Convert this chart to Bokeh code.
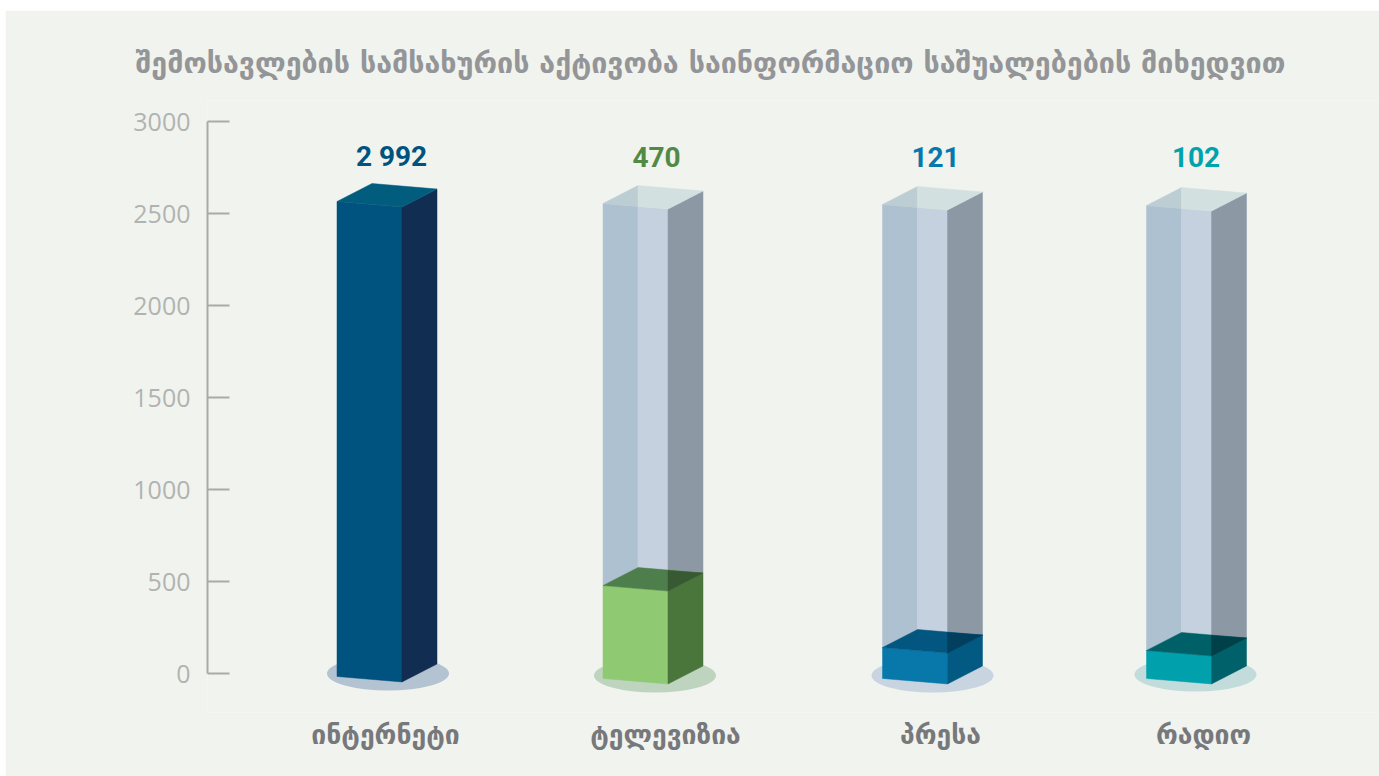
from bokeh.embed import file_html
from bokeh.resources import INLINE
from bokeh.plotting import figure
from bokeh.models import Title, FixedTicker, ColumnDataSource, Range1d
from bokeh.core.properties import value

# ---- data ----
title_text = "შემოსავლების სამსახურის აქტივობა საინფორმაციო საშუალებების მიხედვით"
categories = ["ინტერნეტი", "ტელევიზია", "პრესა", "რადიო"]
value_labels = ["2 992", "470", "121", "102"]
fill_level = [2565, 478, 141, 125]      # height the solid block reaches on the axis
ghost_level = [2565, 2554, 2549, 2543]  # height of the translucent column on the axis
base_level = [-16, -27, -27, -27]       # front-left foot of each block on the axis
y_ticks = [0, 500, 1000, 1500, 2000, 2500, 3000]

# ---- layout ----
PAGE_X, PAGE_Y = 5, 10
W, H = 1379 - PAGE_X, 776 - PAGE_Y
FRAME_L, FRAME_T, FRAME_B = 207, 100, 712
PX_ZERO, PX_THREE_K = 673, 121
unit = (PX_ZERO - PX_THREE_K) / 3000   # pixels per axis unit

box_left = [336.5, 602.5, 882, 1146]
label_x = [385, 665, 940, 1203]
value_x = [391, 656, 935, 1195.5]
shadow_x = [387.5, 654.5, 932, 1195]
shadow_base = [0, -11, -11, -6]
FRONT_W, FRONT_SLOPE = 65, 5.5
DEPTH_X, DEPTH_Y = 35, 18

# ---- styling ----
BG = "#f1f3ee"
front = ["#00527f", "#8fca72", "#0878aa", "#00a0ac"]
side = ["#112e52", "#4a763c", "#025a83", "#00616a"]
top = ["#025c7d", "#4d7e4b", "#02567f", "#006068"]
top_over = ["#025c7d", "#375a33", "#023f5e", "#004049"]
shadow = ["#b3c3d1", "#bfd4bf", "#c8d4e0", "#c2dcdb"]
value_col = ["#00527f", "#518a45", "#0878aa", "#00a3ad"]

p = figure(width=W, height=H, output_backend="svg", toolbar_location=None,
           x_range=Range1d(FRAME_L, PAGE_X + W),
           y_range=Range1d((PX_ZERO - FRAME_B) / unit, (PX_ZERO - FRAME_T) / unit),
           min_border_left=FRAME_L - PAGE_X, min_border_right=0,
           min_border_top=FRAME_T - PAGE_Y, min_border_bottom=H + PAGE_Y - FRAME_B,
           background_fill_color=BG, border_fill_color=BG, outline_line_color=None,
           margin=(PAGE_Y, 0, 0, PAGE_X))
p.xgrid.visible = False
p.ygrid.visible = False

p.title = Title(text=title_text, text_font="DejaVu Sans", text_font_size="28.6px",
                text_font_style="bold", text_color="#939598", align="left",
                offset=-72, standoff=42)

ya = p.yaxis[0]
ya.ticker = FixedTicker(ticks=y_ticks)
ya.bounds = (0, 3000)
ya.axis_line_color = "#a9abaa"
ya.axis_line_width = 2
ya.major_tick_line_color = "#a9abaa"
ya.major_tick_line_width = 2
ya.major_tick_in = 22
ya.major_tick_out = 0
ya.minor_tick_line_color = None
ya.major_label_text_font = "Open Sans"
ya.major_label_text_font_size = "25px"
ya.major_label_text_color = "#b1b3b2"
ya.major_label_standoff = 17

xa = p.xaxis[0]
xa.ticker = FixedTicker(ticks=label_x)
xa.major_label_overrides = dict(zip(label_x, categories))
xa.axis_line_color = None
xa.major_tick_line_color = None
xa.minor_tick_line_color = None
xa.major_label_text_font = "DejaVu Sans"
xa.major_label_text_font_style = "bold"
xa.major_label_text_font_size = "26.5px"
xa.major_label_text_color = "#77787b"
xa.major_label_standoff = 0


def poly(xs, ys, color):
    p.patch(xs, ys, fill_color=color, line_color=color, line_width=0.5)


s = DEPTH_Y / unit
fs = FRONT_SLOPE / unit
for i in range(4):
    x0 = box_left[i]
    xr = x0 + FRONT_W
    # floor shadow
    p.ellipse([shadow_x[i]], [shadow_base[i]], width=122, height=34 / unit,
              fill_color=shadow[i], line_color=None)
    b = base_level[i]
    g = ghost_level[i]
    f = fill_level[i]
    if g > f:
        xm = x0 + DEPTH_X
        frac = DEPTH_X / FRONT_W
        # translucent column: front (left, then see-through right part), side, top
        poly([x0, xm, xm, x0], [g, g - fs * frac, f + s, f], "#aec1d1")
        poly([xm, xr, xr, xm], [g - fs * frac, g - fs, f - fs, f + s], "#c5d1de")
        poly([xr, xr + DEPTH_X, xr + DEPTH_X, xr], [g - fs, g - fs + s, f - fs + s, f - fs], "#8c98a4")
        poly([x0, xm, xm], [g, g + s, g - fs * frac], "#bccdd4")
        poly([xm, xr + DEPTH_X, xr, xm], [g + s, g - fs + s, g - fs, g - fs * frac], "#d3e0e0")
    # solid block
    poly([x0, xr, xr, x0], [f, f - fs, b - fs, b], front[i])
    poly([xr, xr + DEPTH_X, xr + DEPTH_X, xr], [f - fs, f - fs + s, b - fs + s, b - fs], side[i])
    poly([x0, xr, xr + DEPTH_X, x0 + DEPTH_X], [f, f - fs, f - fs + s, f + s], top[i])
    if g > f:
        # the part of the top seen through the translucent side
        poly([xr, xr + DEPTH_X, xr], [f + s - fs * (DEPTH_X / FRONT_W), f - fs + s, f - fs], top_over[i])

src = ColumnDataSource(dict(x=value_x, y=[2808] * 4, t=value_labels, c=value_col))
p.text("x", "y", text="t", text_color="c", source=src, text_align="center", text_baseline="middle",
       text_font=value("Roboto"), text_font_size="28px", text_font_style="bold")

open("out.html", "w").write(file_html(p, INLINE))
